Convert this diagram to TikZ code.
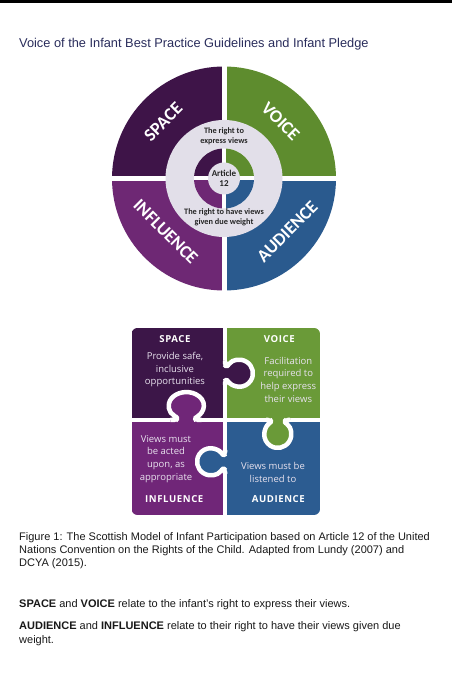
\documentclass[tikz,border=0pt]{standalone}
\usepackage{fontspec}
\setmainfont{Liberation Sans}
\newfontfamily\calfont{Carlito}
\newfontfamily\puzfont{Open Sans}
\newfontfamily\puzhead[LetterSpace=6]{Open Sans}
\definecolor{titleblue}{RGB}{42,45,92}
\definecolor{spaceC}{RGB}{62,20,72}
\definecolor{voiceC}{RGB}{94,140,46}
\definecolor{inflC}{RGB}{110,40,116}
\definecolor{audC}{RGB}{42,90,142}
\definecolor{lightC}{RGB}{226,223,233}
\definecolor{pspace}{RGB}{60,22,72}
\definecolor{pvoice}{RGB}{106,154,56}
\definecolor{pinfl}{RGB}{112,38,120}
\definecolor{paud}{RGB}{44,92,145}
\definecolor{ptext}{RGB}{232,226,238}
\definecolor{captext}{RGB}{25,25,25}
\tikzset{
  qlabel/.style={font=\calfont\bfseries\fontsize{18}{20}\selectfont, text=white, inner sep=0},
  innertxt/.style={font=\calfont\bfseries\fontsize{8.3}{10}\selectfont, text=black!85, align=center, inner sep=0},
  phead/.style={font=\puzhead\bfseries\fontsize{9.6}{11}\selectfont, text=white, inner sep=0},
  pbody/.style={font=\puzfont\fontsize{9.5}{12.8}\selectfont, text=ptext, align=center, inner sep=0},
  captxt/.style={font=\fontsize{11}{13.3}\selectfont, text=captext, anchor=base west, inner sep=0},
  divline/.style={white, line width=4.5},
  knobline/.style={white, line width=4.5, line join=round}
}
\newcommand{\knob}[1]{%
  \fill[#1] [rounded corners=3] (-12,0) -- (-7,0) -- (-7,3.05) arc[start angle=237.4, end angle=-57.4, radius=13.5] -- (7,0) -- (12,0) [sharp corners] -- (12,-4) -- (-12,-4) -- cycle;
  \draw[knobline] [rounded corners=3] (-12,0) -- (-7,0) -- (-7,3.05) arc[start angle=237.4, end angle=-57.4, radius=13.5] -- (7,0) -- (12,0);
}
\begin{document}
\begin{tikzpicture}[x=1pt,y=1pt]
\useasboundingbox (0,0) rectangle (452,680);
\fill[white] (0,0) rectangle (452,680);
\fill[black] (0,677.3) rectangle (452,680);

\node[anchor=base west, inner sep=0, text=titleblue, font=\fontsize{12.8}{15}\selectfont] (title) at (19,632.3) {Voice of the Infant Best Practice Guidelines and Infant Pledge};

% circle diagram
\begin{scope}[shift={(224,501.5)}]
  \begin{scope}
    \clip (0,0) circle (112);
    \fill[spaceC] (-120,2.5) rectangle (-2.5,120);
    \fill[voiceC] (2.5,2.5) rectangle (120,120);
    \fill[inflC] (-120,-2.5) rectangle (-2.5,-120);
    \fill[audC] (2.5,-2.5) rectangle (120,-120);
  \end{scope}
  \fill[lightC] (0,0) circle (58.5);
  \fill[white] (0,0) circle (30);
  \begin{scope}
    \clip (0,0) circle (30);
    \fill[spaceC] (-40,2) rectangle (-2,40);
    \fill[voiceC] (2,2) rectangle (40,40);
    \fill[inflC] (-40,-2) rectangle (-2,-40);
    \fill[audC] (2,-2) rectangle (40,-40);
  \end{scope}
  \fill[lightC] (0,0) circle (16);
  \node[qlabel, rotate=45] (lspace) at (-60.7,56.8) {SPACE};
  \node[qlabel, rotate=-45] (lvoice) at (56.7,56.8) {VOICE};
  \node[qlabel, rotate=-45] (linfl) at (-58.3,-53.2) {INFLUENCE};
  \node[qlabel, rotate=45] (laud) at (63.3,-53.2) {AUDIENCE};
  \node[innertxt] (express) at (0,42.5) {The right to\\express views};
  \node[innertxt, font=\calfont\bfseries\fontsize{9}{10}\selectfont] (article) at (0,0.5) {Article\\12};
  \node[innertxt] (weight) at (0,-39) {The right to have views\\given due weight};
\end{scope}

% puzzle
\begin{scope}
  \clip[rounded corners=6] (131.5,165) rectangle (320,352);
  \fill[pspace] (131.5,260) rectangle (225,352);
  \fill[pvoice] (225,260) rectangle (320,352);
  \fill[pinfl] (131.5,165) rectangle (225,260);
  \fill[paud] (225,165) rectangle (320,260);
  \draw[divline] (225,160) -- (225,360);
  \draw[divline] (125,260) -- (325,260);
  \begin{scope}[shift={(225,307)}, rotate=-90]
    \knob{pspace}
  \end{scope}
  \begin{scope}[shift={(186,260)}, xscale=1.3]
    \knob{pinfl}
  \end{scope}
  \begin{scope}[shift={(278,260)}, rotate=180]
    \knob{pvoice}
  \end{scope}
  \begin{scope}[shift={(225,218)}, rotate=90]
    \knob{paud}
  \end{scope}
\end{scope}

\node[phead] (hspace) at (175,341) {SPACE};
\node[pbody] (bspace) at (175,310.3) {Provide safe,\\inclusive\\opportunities};
\node[phead] (hvoice) at (279.3,341) {VOICE};
\node[pbody] (bvoice) at (288.3,300.2) {Facilitation\\required to\\help express\\their views};
\node[pbody] (binfl) at (166,221) {Views must\\be acted\\upon, as\\appropriate};
\node[phead] (hinfl) at (174.3,181) {INFLUENCE};
\node[pbody] (baud) at (273,207.3) {Views must be\\listened to};
\node[phead] (haud) at (278.3,181) {AUDIENCE};

% caption
\node[captxt] (cap1) at (19,139.3) {Figure 1: The Scottish Model of Infant Participation based on Article 12 of the United};
\node[captxt] (cap2) at (19,126.3) {Nations Convention on the Rights of the Child. Adapted from Lundy (2007) and};
\node[captxt] (cap3) at (19,113) {DCYA (2015).};
\node[captxt] (note1) at (19,72) {\textbf{SPACE} and \textbf{VOICE} relate to the infant’s right to express their views.};
\node[captxt] (note2) at (19,50) {\textbf{AUDIENCE} and \textbf{INFLUENCE} relate to their right to have their views given due};
\node[captxt] (note3) at (19,36) {weight.};
\end{tikzpicture}
\end{document}
